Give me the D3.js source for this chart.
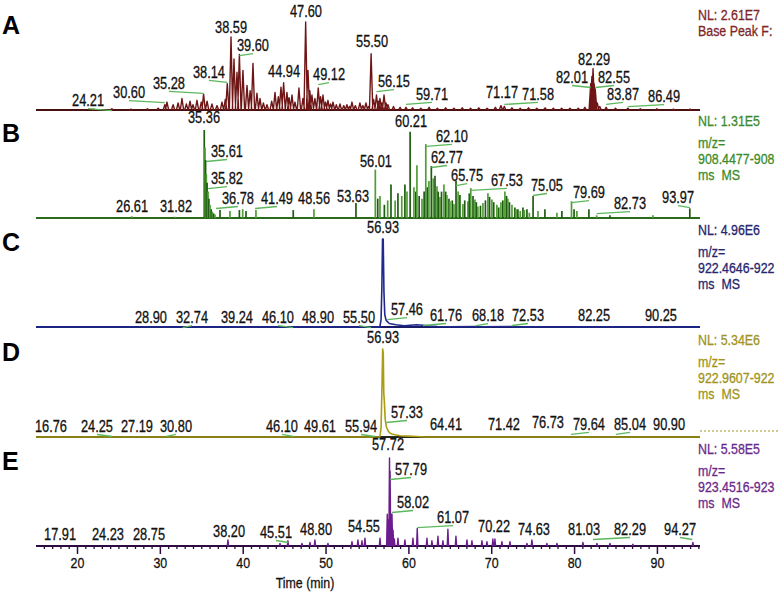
<!DOCTYPE html>
<html><head><meta charset="utf-8">
<script src="https://cdn.jsdelivr.net/npm/d3@7"></script>
<style>body{margin:0;background:#fff}</style>
</head><body><svg id="c" width="780" height="594"></svg>
<script>
// ---------------- DATA ----------------
const panelIds = ["A","B","C","D","E"];
const nlLabels = ["NL: 2.61E7","NL: 1.31E5","NL: 4.96E6","NL: 5.34E6","NL: 5.58E5"];
const filterLines = [
  ["Base Peak F:"],
  ["m/z=","908.4477-908","ms  MS"],
  ["m/z=","922.4646-922","ms  MS"],
  ["m/z=","922.9607-922","ms  MS"],
  ["m/z=","923.4516-923","ms  MS"]
];
const xTicks = [20,30,40,50,60,70,80,90];
const timeDomain = [15.05, 95.2];
const xTitle = "Time (min)";

// A: base peak chromatogram, peaks [rt, relative %]
const peaksA = [
  [22,1],[24.21,1.5],[26.5,1],[28.5,1.5],[29.8,2],
  [30.6,6],[30.86,9],[31.6,6],[32.2,8],[32.67,13],[33.2,7],[33.64,10],[34.0,6],[34.48,11],[35.0,9],[35.28,18],[35.7,10],[36.29,7],[36.9,5],[37.5,9],[37.9,12],
  [38.14,30],[38.59,83],[38.95,58],[39.31,43],[39.60,63],[40.03,45],[40.52,28],[40.9,22],[41.24,53],[41.72,19],[42.09,13],[42.5,8],[42.93,6],[43.5,10],[43.9,20],
  [44.3,15],[44.62,26],[44.94,31],[45.34,20],[45.6,14],[45.95,17],[46.31,9],[46.79,25],[47.27,13],[47.60,100],[47.88,45],[48.1,22],[48.36,17],[48.72,13],
  [49.12,25],[49.4,15],[49.69,17],[50.0,9],[50.29,11],[50.6,7],[50.9,9],[51.3,6],[51.74,7],[52.2,5],[52.58,6],[52.9,4],[53.19,9],[53.6,5],[54.15,8],[54.5,5],[54.88,8],[55.2,4],
  [55.50,64],[55.8,12],[56.15,17],[56.4,10],[56.57,13],[56.8,8],[57.06,17],[57.3,8],[57.53,6],[58.2,4],[59.0,3],[59.71,3],
  [60.5,2.5],[61.5,2],[62.5,3],[63.5,2],[64.5,2.5],[65.5,2],[66.5,2.5],[67.5,2],[68.5,2.5],[69.5,2],[70.5,3],[71.17,5],[71.58,4],[72.5,2.5],[73.5,2],[74.5,2.5],
  [75.5,2],[76.5,2.5],[77.5,2],[78.5,2],[79.5,2],[80.5,2],[81.3,3],
  [82.01,30],[82.15,38],[82.29,47],[82.42,30],[82.55,24],[82.8,8],[83.1,4],[83.87,3],[85,2],[86.49,2],[88,1.5],[90,1.5],[92,1],[94,1]
];

// B: extracted ion chromatogram m/z 908.4477, sticks [rt, %]
const sticksB = [
  [24.9,1],[26.61,2],[31.6,1],[31.82,1.5],
  [35.36,100],[35.45,80],[35.52,66],[35.61,50],[35.70,40],[35.82,30],[35.92,22],[36.05,15],[36.2,10],[36.35,7],[36.5,5],[36.65,4],
  [37.26,9],[38.46,8],[39.6,9],[40.0,10],[40.4,8],[41.6,9],[46.1,9],[48.6,10],[53.67,17],
  [56.01,55],[56.3,22],[56.57,25],[57.1,15],[57.5,20],[57.9,38],[58.4,20],[58.74,28],[59.2,25],[59.58,38],[59.83,30],
  [60.21,98],[60.67,35],[60.9,30],[61.03,60],[61.3,25],[61.64,22],[61.9,30],[62.10,84],[62.3,35],[62.48,42],[62.77,59],[63.0,45],[63.21,48],[63.45,36],[63.6,30],[63.81,24],
  [64.0,30],[64.29,38],[64.5,30],[64.65,26],[64.9,22],[65.02,19],[65.3,20],[65.5,16],[65.75,42],[66.0,30],[66.22,26],[66.58,16],[66.8,20],[67.19,19],[67.35,28],[67.53,34],[67.8,25],
  [68.03,21],[68.2,18],[68.39,13],[68.7,14],[69.0,17],[69.3,20],[69.6,28],[69.8,24],[70.08,21],[70.3,18],[70.68,15],[70.9,12],[71.17,18],[71.4,20],[71.65,30],[71.85,25],
  [72.01,22],[72.2,18],[72.5,15],[72.86,12],[73.0,10],[73.22,10],[73.5,8],[73.83,12],[74.0,9],[74.31,10],[74.6,6],[75.05,25],[75.64,8],[76.48,10],[77.93,6],[78.53,8],
  [79.69,19],[80.0,10],[80.34,8],[81.79,10],[82.73,3],[84.33,3],[89.51,3],[93.97,11]
];

// C: m/z 922.4646 trace points [rt, %]
const traceC = [
  [15.05,0],[56.55,0],[56.7,8],[56.8,45],[56.88,100],[56.96,100],[57.05,40],[57.15,14],[57.3,8],[57.46,6],[57.7,4],[58.0,3.5],[58.5,2.5],
  [59.0,2],[59.5,1.5],[60.2,2],[61.0,2.5],[61.76,2],[62.5,1.2],[63.5,0.6],[65,0.3],[68.18,0.6],[69,0.2],[72.53,0.6],[73.5,0],[95.2,0]
];

// D: m/z 922.9607 trace points [rt, %]
const traceD = [
  [15.05,0],[56.55,0],[56.7,10],[56.82,60],[56.9,100],[56.97,95],[57.03,50],[57.1,40],[57.2,20],[57.33,12],[57.5,8],[57.7,5],
  [58.0,3.5],[58.4,2.5],[59.0,1.5],[60.0,1],[61,0.5],[62,0],[95.2,0]
];

// E: m/z 923.4516 peaks [rt, %]
const peaksE = [
  [38.22,7],[44.5,3],[45.46,6],[47.15,3],[48.12,4],[48.72,7],[50.29,3],[53.19,5],[53.91,7],[54.4,6],[54.76,9],[56.57,9],
  [57.45,36],[57.6,30],[57.72,100],[57.79,85],[57.95,36],[58.02,36],[58.15,18],[58.3,8],[58.74,9],[59.58,7],[60.55,9],[61.07,20],
  [62.24,9],[62.84,6],[63.57,11],[64.17,6],[64.77,19],[65.74,11],[67.07,7],[67.67,6],[68.88,6],[69.48,5],[70.2,8],[70.45,8],
  [71.29,5],[72.26,5],[74.31,3],[74.91,7],[76.72,3],[77.93,3],[81.07,4],[82.76,3],[84.33,3],[87.1,2],[94.34,4]
];

// peak annotations: [text, label centre (min), label level (%)]
const labelsA = [
  ["24.21",21.33,4.5],["30.60",26.28,13.6],["35.28",31.10,23.9],["38.14",35.93,36.4],["38.59",38.59,87.5],["39.60",41.24,67],
  ["44.94",44.99,37.5],["47.60",47.64,105.7],["49.12",50.42,34],["55.50",55.61,71.6],["56.15",58.26,26],["59.71",62.85,11.4],
  ["71.17",71.30,13.6],["71.58",75.65,11.4],["82.01",79.75,30.7],["82.29",82.41,51],["82.55",84.82,30.7],["83.87",85.91,11.4],["86.49",90.86,9]
];
const labelsB = [
  ["35.36",35.33,108],["35.61",38.1,69.3],["35.82",38.1,38.6],["36.78",39.43,15.9],["41.49",44.14,15.9],["48.56",48.61,15.9],
  ["53.63",53.32,18.2],["26.61",26.64,6.8],["31.82",31.95,6.8],["56.01",56.09,58],["60.21",60.32,103.4],["62.10",65.26,86.4],
  ["62.77",64.66,62.5],["65.75",67.08,42],["67.53",71.9,36.4],["75.05",76.73,30.7],["79.69",81.8,22.7],["82.73",86.75,10.2],["93.97",92.55,17]
];
const labelsC = [
  ["56.93",56.94,106.8],["28.90",28.93,4.5],["32.74",33.88,4.5],["39.24",39.31,4.5],["46.10",44.26,4.5],["48.90",49.09,4.5],
  ["55.50",54.04,4.5],["57.46",59.83,13.6],["61.76",64.54,6.8],["68.18",69.61,6.8],["72.53",74.44,6.8],["82.25",82.41,6.8],["90.25",90.49,6.8]
];
const labelsD = [
  ["56.93",56.94,106.8],["16.76",16.86,5.7],["24.25",22.41,5.7],["27.19",27.24,5.7],["30.80",31.95,5.7],["46.10",44.74,5.7],
  ["49.61",49.33,5.7],["55.94",54.28,5.7],["57.33",59.83,21.6],["64.41",64.54,8],["71.42",71.54,8],["76.73",76.85,10.2],
  ["79.64",81.8,8],["85.04",86.75,8],["90.90",91.46,8]
];
const labelsE = [
  ["57.72",57.54,109],["57.79",60.32,80.7],["58.02",60.56,43.2],["61.07",65.39,26.1],["70.22",70.34,15.9],["74.63",75.16,12.5],
  ["81.03",81.2,12.5],["82.29",86.75,12.5],["94.27",92.79,12.5],["17.91",17.95,6.8],["24.23",23.74,6.8],["28.75",28.69,6.8],
  ["38.20",38.35,10.2],["45.51",44.02,9.1],["48.80",48.85,12.5],["54.55",54.64,15.9]
];

// ---------------- LAYOUT / STYLE ----------------
const FONT = "'Liberation Sans',Arial,sans-serif";
const NARROW = 0.8;          // horizontal squeeze to imitate a narrow face
const LABEL_SIZE = 16;
const baselines = [110, 218, 327, 437, 546];
const fullScale = 88;
const traceColors = ["#6e1616","#2f7d1d","#1f2a8c","#aa9d12","#6c1c8e"];
const baseColors  = ["#4a1010","#2a6a18","#1a1a66","#2a2a1a","#2e0c40"];
const legendColors= ["#7e2626","#3b8b2a","#26266e","#a09420","#6a2a8a"];
const connectorColor = "#5cb85c";

const svg = d3.select("#c");
const x = d3.scaleLinear().domain(timeDomain).range([36, 700]);
const ys = baselines.map(b => d3.scaleLinear().domain([0,100]).range([b, b - fullScale]));
const line = d3.line();

function ntext(g, px, py, txt, size, fill, anchor) {
  return g.append("text")
    .attr("transform", `translate(${px},${py}) scale(${NARROW},1)`)
    .attr("text-anchor", anchor || "start")
    .attr("font-family", FONT).attr("font-size", size)
    .attr("fill", fill).attr("stroke", fill).attr("stroke-width", 0.3)
    .attr("xml:space","preserve").text(txt);
}
function drawBaseline(i) {
  svg.append("line")
    .attr("x1", x(timeDomain[0])).attr("x2", x(timeDomain[1]))
    .attr("y1", ys[i](0)).attr("y2", ys[i](0))
    .attr("stroke", baseColors[i]).attr("stroke-width", 2.2);
}
function drawTriangles(i, peaks, hw, sw) {
  const y = ys[i];
  const d = peaks.map(([t,h]) => line([[x(t-hw),y(0)],[x(t),y(h)],[x(t+hw),y(0)]])).join("");
  svg.append("path").attr("d", d).attr("fill","none")
    .attr("stroke", traceColors[i]).attr("stroke-width", sw).attr("stroke-linejoin","round");
}
function drawTrace(i, pts, sw) {
  const y = ys[i];
  svg.append("path").attr("d", line(pts.map(([t,h]) => [x(t), y(h)])))
    .attr("fill","none").attr("stroke", traceColors[i]).attr("stroke-width", sw).attr("stroke-linejoin","round");
}
function drawLabels(i, labels) {
  const y = ys[i];
  const g = svg.append("g");
  labels.forEach(([txt, lt, lv]) => {
    const rt = parseFloat(txt);
    const lx = x(lt), ly = y(lv), px = x(rt);
    if (Math.abs(lx - px) > 6) {
      g.append("line").attr("x1", lx).attr("y1", ly + 2.5).attr("x2", px).attr("y2", ly + 4.5)
        .attr("stroke", connectorColor).attr("stroke-width", 1.3);
    }
    ntext(g, lx, ly, txt, LABEL_SIZE, "#111", "middle");
  });
}
function drawLegend(i) {
  const b = baselines[i];
  const g = svg.append("g");
  if (i === 0) {
    ntext(g, 698, b - 90, nlLabels[i], 15.5, legendColors[i]);
    ntext(g, 698, b - 74, filterLines[i][0], 15.5, legendColors[i]);
  } else {
    ntext(g, 698, b - 92, nlLabels[i], 15.5, legendColors[i]);
    const offs = [70, 54, 38];
    filterLines[i].forEach((s, k) => ntext(g, 698, b - offs[k], s, 15.5, legendColors[i]));
  }
  svg.append("text").attr("x", 2).attr("y", b - 76).attr("font-family", FONT)
    .attr("font-weight","bold").attr("font-size", 25).attr("fill","#000").text(panelIds[i]);
}

// A
drawBaseline(0); drawTriangles(0, peaksA, 0.2, 1.4); drawLabels(0, labelsA); drawLegend(0);
// B
drawBaseline(1);
svg.append("g").selectAll("line").data(sticksB).join("line")
  .attr("x1", d => x(d[0])).attr("x2", d => x(d[0]))
  .attr("y1", ys[1](0)).attr("y2", d => ys[1](d[1]))
  .attr("stroke", (d,k) => k % 2 ? "#4f9e35" : "#1f5c12").attr("stroke-width", 1.7);
drawLabels(1, labelsB); drawLegend(1);
// C
drawBaseline(2); drawTrace(2, traceC, 1.6); drawLabels(2, labelsC); drawLegend(2);
// D
drawBaseline(3); drawTrace(3, traceD, 1.6); drawLabels(3, labelsD); drawLegend(3);
svg.append("line").attr("x1", 700).attr("x2", 780).attr("y1", baselines[3] - 6).attr("y2", baselines[3] - 6)
  .attr("stroke", legendColors[3]).attr("stroke-width", 1.2).attr("stroke-dasharray","2,2");
// E
drawBaseline(4); drawTriangles(4, peaksE, 0.08, 1.4); drawLabels(4, labelsE); drawLegend(4);

// x axis on E
const minorTicks = d3.range(16, 96).filter(v => v % 10 !== 0);
svg.append("g").attr("transform", `translate(0,${baselines[4]})`)
  .call(d3.axisBottom(x).tickValues(minorTicks).tickSize(3).tickFormat("").tickSizeOuter(0))
  .call(g => { g.select(".domain").remove(); g.selectAll("line").attr("stroke", baseColors[4]).attr("stroke-width", 1.3); });
svg.append("g").attr("transform", `translate(0,${baselines[4]})`)
  .call(d3.axisBottom(x).tickValues(xTicks).tickSize(8).tickPadding(3).tickSizeOuter(0))
  .call(g => {
    g.select(".domain").remove();
    g.selectAll("line").attr("stroke", baseColors[4]).attr("stroke-width", 1.5);
    g.selectAll("text").attr("font-family", FONT).attr("font-size", 15.5).attr("fill", "#111")
      .attr("stroke","#111").attr("stroke-width",0.3).attr("transform", `scale(${NARROW},1)`);
  });
ntext(svg, 305, 588, xTitle, 15.5, "#111", "middle");
</script></body></html>
